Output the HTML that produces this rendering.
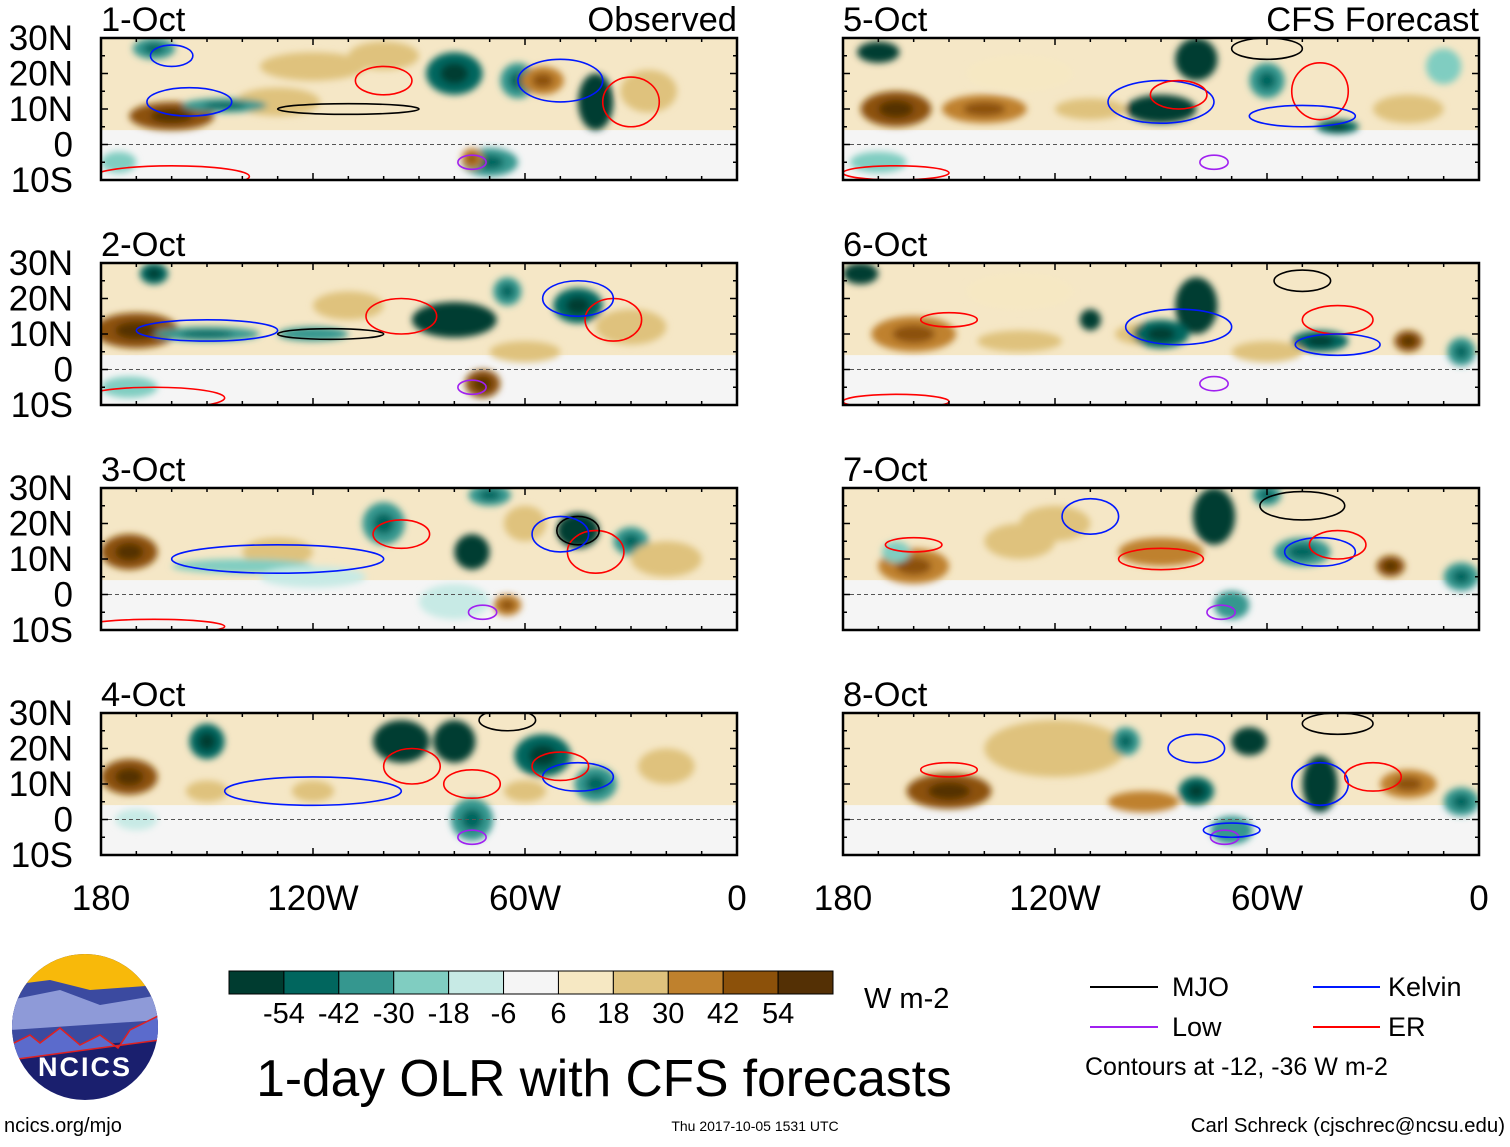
<!DOCTYPE html>
<html><head><meta charset="utf-8">
<style>
body{margin:0;background:#fff;width:1510px;height:1142px;overflow:hidden;font-family:"Liberation Sans",sans-serif}
svg text{font-family:"Liberation Sans",sans-serif}
</style></head>
<body>
<svg id="chart" width="1510" height="1142" xmlns="http://www.w3.org/2000/svg">
<defs><filter id="bl" x="-50%" y="-50%" width="200%" height="200%"><feGaussianBlur stdDeviation="3.5"/></filter></defs>
<g id="panels"></g>
<g id="colorbar"></g>
<g>
<clipPath id="lc"><circle cx="85" cy="1027" r="73"/></clipPath>
<g clip-path="url(#lc)">
<rect x="10" y="950" width="150" height="160" fill="#1a1f6e"/>
<rect x="10" y="950" width="150" height="45" fill="#f8b90a"/>
<path d="M10 985 L50 980 L90 990 L160 985 L160 1040 L10 1050Z" fill="#3b4aa0"/>
<path d="M10 1000 L60 990 L100 1005 L160 995 L160 1020 L10 1030Z" fill="#8e9ad8"/>
<path d="M10 1045 L30 1035 L40 1043 L60 1028 L80 1045 L100 1035 L118 1048 L130 1030 L160 1015 L160 1040 L10 1060Z" fill="#5b6bcc" stroke="#e02020" stroke-width="1.5"/>
</g>
<text x="85" y="1076" font-size="27" font-weight="bold" fill="#fff" text-anchor="middle" letter-spacing="2">NCICS</text>
</g>
<text x="4" y="1132" font-size="20">ncics.org/mjo</text>
<text x="755" y="1131" font-size="14" text-anchor="middle">Thu 2017-10-05 1531 UTC</text>
<text x="1505" y="1132" font-size="20.4" text-anchor="end">Carl Schreck (cjschrec@ncsu.edu)</text>
<text x="604" y="1096" font-size="51.5" text-anchor="middle">1-day OLR with CFS forecasts</text>
<text x="864" y="1008" font-size="29">W m-2</text>
<g font-size="27">
<line x1="1090" y1="987" x2="1158" y2="987" stroke="#000" stroke-width="2"/>
<text x="1172" y="996">MJO</text>
<line x1="1313" y1="987" x2="1380" y2="987" stroke="#0018ff" stroke-width="2"/>
<text x="1388" y="996">Kelvin</text>
<line x1="1090" y1="1027" x2="1158" y2="1027" stroke="#a020f0" stroke-width="2"/>
<text x="1172" y="1036">Low</text>
<line x1="1313" y1="1027" x2="1380" y2="1027" stroke="#ff0000" stroke-width="2"/>
<text x="1388" y="1036">ER</text>
<text x="1085" y="1075" font-size="25">Contours at -12, -36 W m-2</text>
</g>
</svg>
<script>
const panelTitles=["1-Oct","2-Oct","3-Oct","4-Oct","5-Oct","6-Oct","7-Oct","8-Oct"];
const latTicks=[30,20,10,0,-10];
const latLabels=["30N","20N","10N","0","10S"];
const lonTicks=[-180,-120,-60,0];
const lonLabels=["180","120W","60W","0"];
const cbLevels=[-54,-42,-30,-18,-6,6,18,30,42,54];
const cbColors=["#003c30","#01665e","#35978f","#80cdc1","#c7eae5","#f5f5f5","#f6e8c3","#dfc27d","#bf812d","#8c510a","#543005"];
// blobs: [lon, lat, rLon, rLat, OLR anomaly]
const blobs1=[[-160,8,12,4,45],[-130,12,12,4,30],[-120,22,15,4,20],[-145,11,12,2,-40],[-80,20,8,6,-50],[-62,18,5,5,-40],[-40,12,5,8,-54],[-55,18,6,4,40],[-25,15,8,6,20],[-70,-5,8,4,-40],[-75,-4,3,3,40],[-175,-5,5,3,-20],[-100,25,10,4,20],[-165,27,6,3,-40]];
const blobs2=[[-170,11,12,5,45],[-150,10,15,2,-40],[-120,10,10,2,-30],[-80,14,12,5,-54],[-65,22,4,4,-40],[-45,18,7,5,-50],[-72,-4,5,4,45],[-110,18,10,4,20],[-30,12,10,5,20],[-172,-5,8,3,-20],[-60,5,10,3,20],[-165,27,4,3,-45]];
const blobs3=[[-172,12,8,5,50],[-130,12,10,4,30],[-100,20,6,6,-40],[-75,12,5,5,-54],[-45,18,6,5,-54],[-30,15,5,4,-40],[-60,20,6,5,20],[-140,8,20,2,-20],[-80,-2,10,5,-15],[-65,-3,4,3,40],[-120,5,15,3,-12],[-20,10,10,5,25],[-70,28,6,3,-40]];
const blobs4=[[-172,12,8,5,50],[-150,22,5,5,-50],[-95,22,8,6,-54],[-80,22,6,6,-54],[-75,0,6,6,-40],[-55,18,8,6,-50],[-40,10,6,5,-40],[-150,8,6,3,30],[-120,8,6,3,20],[-60,8,6,3,30],[-170,0,6,3,-12],[-20,15,8,5,20]];
const blobs5=[[-165,10,10,5,45],[-140,10,12,4,40],[-110,10,10,3,30],[-170,26,6,3,-54],[-80,24,6,6,-54],[-90,10,10,4,-54],[-60,18,5,5,-40],[-40,5,6,2,-50],[-20,10,10,4,25],[-170,-5,8,3,-20],[-10,22,5,5,-20],[-130,20,15,5,15]];
const blobs6=[[-160,10,12,5,40],[-130,8,12,3,30],[-95,10,8,3,30],[-80,18,6,8,-54],[-90,10,8,4,-50],[-110,14,3,3,-54],[-45,8,8,3,-50],[-20,8,4,3,45],[-175,27,5,3,-54],[-60,5,10,3,25],[-5,5,4,4,-40],[-130,22,15,5,15]];
const blobs7=[[-160,8,10,5,40],[-130,15,10,5,25],[-90,12,12,4,35],[-75,22,6,8,-54],[-60,28,4,3,-40],[-50,12,8,4,-40],[-25,8,4,3,50],[-5,5,5,4,-40],[-120,20,10,5,20],[-70,-3,5,4,-30],[-165,12,4,3,-20]];
const blobs8=[[-150,8,12,5,45],[-120,20,20,8,25],[-95,5,10,3,35],[-80,8,5,4,-50],[-65,22,5,4,-54],[-45,10,5,8,-54],[-20,10,8,4,40],[-5,5,5,4,-40],[-100,22,4,4,-40],[-70,-3,6,4,-30]];
// contours: [type, lon, lat, rLon, rLat]
const cont1=[["k",-155,12,12,4],["er",-100,18,8,4],["mjo",-110,10,20,1.5],["er",-30,12,8,7],["k",-50,18,12,6],["low",-75,-5,4,2],["er",-160,-9,22,3],["k",-160,25,6,3]];
const cont2=[["k",-150,11,20,3],["er",-95,15,10,5],["mjo",-115,10,15,1.5],["er",-35,14,8,6],["k",-45,20,10,5],["low",-75,-5,4,2],["er",-165,-8,20,3]];
const cont3=[["k",-130,10,30,4],["er",-95,17,8,4],["er",-40,12,8,6],["mjo",-45,18,6,4],["k",-50,17,8,5],["low",-72,-5,4,2],["er",-165,-9,20,2]];
const cont4=[["k",-120,8,25,4],["er",-92,15,8,5],["er",-75,10,8,4],["k",-45,12,10,4],["er",-50,15,8,4],["low",-75,-5,4,2],["mjo",-65,28,8,3]];
const cont5=[["k",-90,12,15,6],["er",-85,14,8,4],["er",-45,15,8,8],["mjo",-60,27,10,3],["k",-50,8,15,3],["low",-75,-5,4,2],["er",-165,-8,15,2]];
const cont6=[["k",-85,12,15,5],["er",-40,14,10,4],["k",-40,7,12,3],["mjo",-50,25,8,3],["er",-150,14,8,2],["low",-75,-4,4,2],["er",-165,-9,15,2]];
const cont7=[["k",-110,22,8,5],["er",-90,10,12,3],["k",-45,12,10,4],["mjo",-50,25,12,4],["er",-40,14,8,4],["er",-160,14,8,2],["low",-73,-5,4,2]];
const cont8=[["k",-80,20,8,4],["er",-150,14,8,2],["k",-45,10,8,6],["mjo",-40,27,10,3],["er",-30,12,8,4],["low",-72,-5,4,2],["k",-70,-3,8,2]];
const allBlobs=[blobs1,blobs2,blobs3,blobs4,blobs5,blobs6,blobs7,blobs8];
const allCont=[cont1,cont2,cont3,cont4,cont5,cont6,cont7,cont8];
const NS="http://www.w3.org/2000/svg";
const PW=636,PH=142;
const lefts=[101,843],tops=[38,263,488,713];
function mk(t,a,p){const e=document.createElementNS(NS,t);for(const k in a)e.setAttribute(k,a[k]);p.appendChild(e);return e;}
function colorOf(v){let i=0;while(i<cbLevels.length&&v>cbLevels[i])i++;return cbColors[i];}
const cstroke={k:"#0018ff",er:"#ff0000",mjo:"#000",low:"#a020f0"};
const G=document.getElementById("panels");
for(let p=0;p<8;p++){
 const L=lefts[p<4?0:1],T=tops[p%4];
 const xS=lon=>L+(lon+180)/180*PW, yS=lat=>T+(30-lat)/40*PH;
 const g=mk("g",{},G);
 
 
 const cp=mk("clipPath",{id:"cp"+p},g);
 mk("rect",{x:L,y:T,width:PW,height:PH},cp);
 const inner=mk("g",{"clip-path":"url(#cp"+p+")"},g);
 mk("rect",{x:L,y:T,width:PW,height:yS(4)-T,fill:"#f5e7c6"},inner);
 mk("rect",{x:L,y:yS(4),width:PW,height:T+PH-yS(4),fill:"#f5f5f5"},inner);
 const bg=mk("g",{filter:"url(#bl)"},inner);
 allBlobs[p].forEach(b=>{
  const e=mk("ellipse",{cx:xS(b[0]),cy:yS(b[1]),rx:b[2]/180*PW,ry:b[3]/40*PH,fill:colorOf(b[4])},bg);
  
  
  if(Math.abs(b[4])>=40){mk("ellipse",{cx:xS(b[0]),cy:yS(b[1]),rx:b[2]/360*PW,ry:b[3]/80*PH,fill:colorOf(b[4]*1.3)},bg);}
 });
 allCont[p].forEach(c=>{
  const e=mk("ellipse",{cx:xS(c[1]),cy:yS(c[2]),rx:c[3]/180*PW,ry:c[4]/40*PH,fill:"none",stroke:cstroke[c[0]],"stroke-width":1.6},inner);
  
  
 });
 const eq=mk("line",{x1:L,x2:L+PW,y1:yS(0),y2:yS(0),stroke:"#555","stroke-dasharray":"4 3","stroke-width":1},g);
 
 
 const fr=mk("rect",{x:L,y:T,width:PW,height:PH,fill:"none",stroke:"#000","stroke-width":2.5},g);
 
 
 for(let lo=-180;lo<=0;lo+=10){const len=lo%60==0?7:4;
  mk("line",{x1:xS(lo),x2:xS(lo),y1:T,y2:T+len,stroke:"#000","stroke-width":1.5},g);
  mk("line",{x1:xS(lo),x2:xS(lo),y1:T+PH,y2:T+PH-len,stroke:"#000","stroke-width":1.5},g);}
 for(let la=-10;la<=30;la+=5){const len=la%10==0?7:4;
  mk("line",{x1:L,x2:L+len,y1:yS(la),y2:yS(la),stroke:"#000","stroke-width":1.5},g);
  mk("line",{x1:L+PW,x2:L+PW-len,y1:yS(la),y2:yS(la),stroke:"#000","stroke-width":1.5},g);}
 const tt=mk("text",{x:L,y:T-7,"font-size":34.5},g);tt.textContent=panelTitles[p];
 
 
 if(p%4==0){const st=mk("text",{x:L+PW,y:T-7,"font-size":34.5,"text-anchor":"end"},g);st.textContent=p==0?"Observed":"CFS Forecast";
  
  }
 if(p<4){latTicks.forEach((la,i)=>{const t=mk("text",{x:73,y:yS(la)+12,"font-size":35,"text-anchor":"end"},g);t.textContent=latLabels[i];
  
  });}
 if(p%4==3){lonTicks.forEach((lo,i)=>{const t=mk("text",{x:xS(lo),y:910,"font-size":35,"text-anchor":"middle"},g);t.textContent=lonLabels[i];
  
  });}
}
const CB=document.getElementById("colorbar");
const cbx=229,cbw=604/11;
cbColors.forEach((c,i)=>{const r=mk("rect",{x:cbx+i*cbw,y:971,width:cbw,height:23,fill:c,stroke:"#000","stroke-width":1},CB);
 
 });
cbLevels.forEach((v,i)=>{const t=mk("text",{x:cbx+(i+1)*cbw,y:1023,"font-size":29,"text-anchor":"middle"},CB);t.textContent=v;
 
 });
</script>
</body></html>
